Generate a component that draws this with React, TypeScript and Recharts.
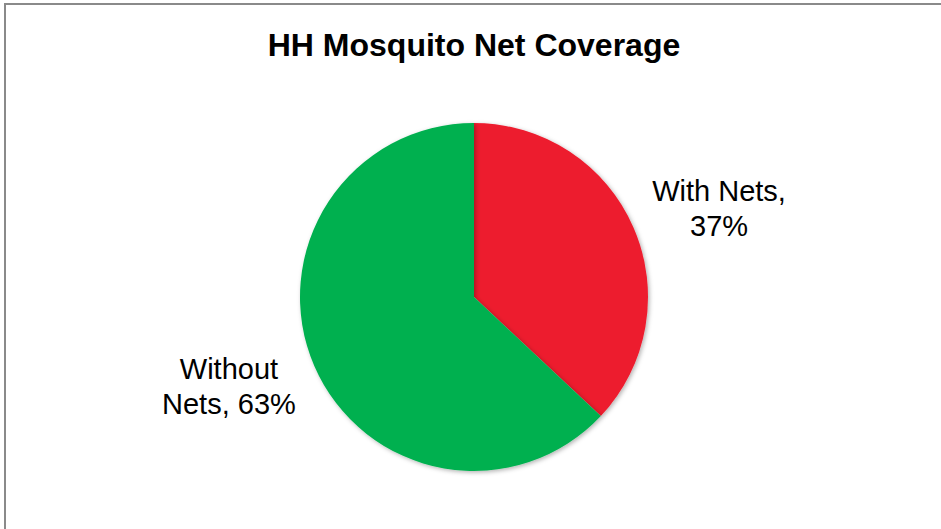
import React from "react";
import { PieChart, Pie, Cell } from "recharts";

const categories = ["With Nets", "Without Nets"];
const values = [37, 63];
const colors = ["#ED1C2E", "#00B050"];
const labelLines = [
  ["With Nets,", "37%"],
  ["Without", "Nets, 63%"],
];

const data = categories.map((name, i) => ({ name, value: values[i] }));

const FONT = "'Liberation Sans', Arial, sans-serif";
const RAD = Math.PI / 180;

const renderLabel = (props: any) => {
  const { cx, cy, midAngle, outerRadius, index } = props;
  const x = cx + (outerRadius + 93) * Math.cos(-midAngle * RAD);
  const y = cy + (outerRadius + 50) * Math.sin(-midAngle * RAD);
  const lines = labelLines[index];
  return (
    <text
      x={x}
      y={y}
      textAnchor="middle"
      fill="#000"
      fontFamily={FONT}
      fontSize={29}
    >
      <tspan x={x} y={y - 17} dominantBaseline="central">
        {lines[0]}
      </tspan>
      <tspan x={x} y={y + 18} dominantBaseline="central">
        {lines[1]}
      </tspan>
    </text>
  );
};

export default function App() {
  return (
    <div
      style={{
        position: "absolute",
        left: 0,
        top: 0,
        width: 941,
        height: 529,
        background: "#fff",
        overflow: "hidden",
      }}
    >
      <div
        style={{
          position: "absolute",
          left: 4,
          top: 3,
          width: 960,
          height: 560,
          borderLeft: "2px solid #8a8a8a",
          borderTop: "2px solid #8a8a8a",
          boxSizing: "border-box",
        }}
      />
      <div
        style={{
          position: "absolute",
          left: 0,
          top: 25,
          width: 948,
          textAlign: "center",
          fontFamily: FONT,
          fontWeight: "bold",
          fontSize: 32,
          lineHeight: "40px",
          color: "#000",
        }}
      >
        HH Mosquito Net Coverage
      </div>
      <div style={{ position: "absolute", left: 0, top: 0 }}>
        <PieChart width={941} height={529} margin={{ top: 0, right: 0, bottom: 0, left: 0 }}>
          <defs>
            <filter id="pieShadow" x="-10%" y="-10%" width="120%" height="120%">
              <feDropShadow dx="1.5" dy="1.5" stdDeviation="2" floodColor="#000" floodOpacity="0.3" />
            </filter>
          </defs>
          <Pie
            data={data}
            dataKey="value"
            nameKey="name"
            cx={474}
            cy={297}
            outerRadius={174}
            startAngle={90}
            endAngle={-270}
            stroke="none"
            label={renderLabel}
            labelLine={false}
            isAnimationActive={false}
            style={{ filter: "url(#pieShadow)" }}
          >
            {data.map((d, i) => (
              <Cell key={d.name} fill={colors[i]} />
            ))}
          </Pie>
        </PieChart>
      </div>
    </div>
  );
}
